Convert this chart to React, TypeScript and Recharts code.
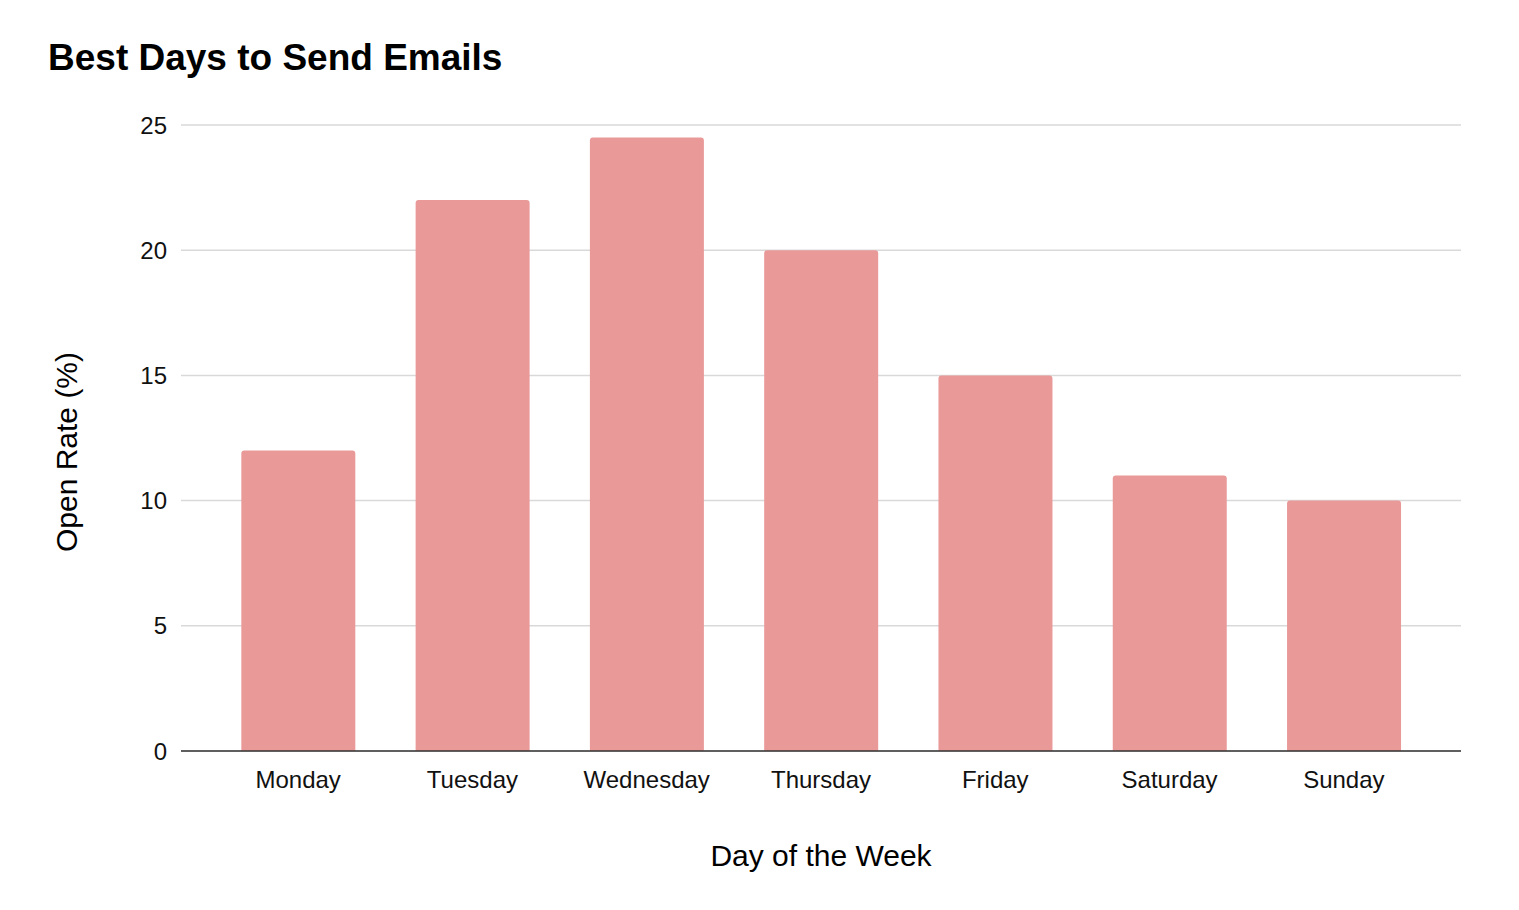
import React from "react"
import { Bar, BarChart, CartesianGrid, XAxis, YAxis, Label } from "recharts"

const days = ["Monday", "Tuesday", "Wednesday", "Thursday", "Friday", "Saturday", "Sunday"]
const openRates = [12, 22, 24.5, 20, 15, 11, 10]
const yTicks = [0, 5, 10, 15, 20, 25]

const data = days.map((day, i) => ({ day, rate: openRates[i] }))

const font = "'Liberation Sans', Arial, sans-serif"

const YTitle = ({ viewBox }: any) => {
  const x = viewBox.x + 77
  const y = viewBox.y + viewBox.height / 2 + 14
  return (
    <text
      x={x}
      y={y}
      transform={`rotate(-90, ${x}, ${y})`}
      textAnchor="middle"
      fontSize={30}
      fontFamily={font}
      fill="#000"
    >
      Open Rate (%)
    </text>
  )
}

const XTitle = ({ viewBox }: any) => (
  <text
    x={viewBox.x + viewBox.width / 2}
    y={viewBox.y + 115}
    textAnchor="middle"
    fontSize={30}
    fontFamily={font}
    fill="#000"
  >
    Day of the Week
  </text>
)

export default function App() {
  return (
    <div style={{ position: "absolute", left: 0, top: 0, width: 1519, height: 910, background: "#fff", fontFamily: font }}>
      <div
        style={{
          position: "absolute",
          left: 48,
          top: 39,
          fontSize: 37,
          lineHeight: "37px",
          fontWeight: "bold",
          color: "#000",
          whiteSpace: "nowrap",
        }}
      >
        Best Days to Send Emails
      </div>
      <BarChart
        width={1519}
        height={910}
        data={data}
        margin={{ top: 125, right: 58, bottom: 129, left: 0 }}
        barCategoryGap="17.4%"
      >
        <CartesianGrid vertical={false} stroke="#d9d9d9" strokeWidth={1.5} />
        <XAxis
          dataKey="day"
          height={30}
          padding={{ left: 30, right: 30 }}
          tickLine={false}
          tickSize={0}
          tickMargin={20}
          axisLine={{ stroke: "#333", strokeWidth: 1.5 }}
          tick={{ fontSize: 24, fontFamily: font, fill: "#111" }}
          interval={0}
        >
          <Label content={<XTitle />} />
        </XAxis>
        <YAxis
          width={181}
          domain={[0, 25]}
          ticks={yTicks}
          tickLine={false}
          tickSize={0}
          tickMargin={14}
          axisLine={false}
          tick={{ fontSize: 24, fontFamily: font, fill: "#111" }}
        >
          <Label content={<YTitle />} />
        </YAxis>
        <Bar dataKey="rate" fill="#ea9999" radius={[3, 3, 0, 0]} isAnimationActive={false} />
      </BarChart>
    </div>
  )
}
